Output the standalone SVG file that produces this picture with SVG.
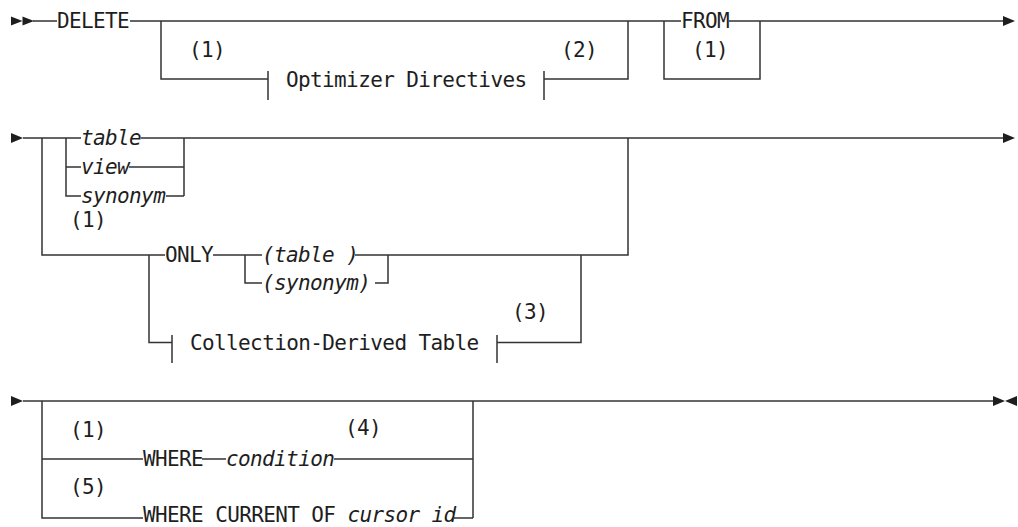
<svg xmlns="http://www.w3.org/2000/svg" width="1018" height="527" viewBox="0 0 1018 527">
<style>
text{font-family:"DejaVu Sans Mono","Liberation Mono",monospace;font-size:21px;letter-spacing:-0.62px;fill:#1e1e1e}
.i{font-style:italic}
.c{fill:none;stroke:#333;stroke-width:1.5}
.a{fill:#1e1e1e}
</style>
<rect width="1018" height="527" fill="#fff"/>
<g id="connectors">
<path class="c" d="M33,21 H57 M130,21 H681 M729,21 H1003"/>
<path class="c" d="M161,21 V79 H268 M268,71 V100 M544,71 V100 M544,79 H628 V21"/>
<path class="c" d="M664,21 V79 H760 V21"/>
<path class="c" d="M23,138 H81 M141,138 H1003"/>
<path class="c" d="M42,138 V255 H165"/>
<path class="c" d="M66,138 V196 H81 M66,167 H81 M129,167 H184 M166,196 H184 M184,138 V196"/>
<path class="c" d="M213,255 H262 M245,255 V283 H262 M355,255 H628 V138 M375,283 H388 V255"/>
<path class="c" d="M149,255 V342.5 H172 M172,335 V363 M497,335 V363 M497,342.5 H581 V255"/>
<path class="c" d="M23,401 H993"/>
<path class="c" d="M42,401 V518 H143 M42,459 H143 M202,459 H226 M334,459 H473 M473,401 V518 M454,518 H473"/>
<polygon class="a" points="11,16.5 22.5,21 11,25.5"/>
<polygon class="a" points="22.5,16.5 34,21 22.5,25.5"/>
<polygon class="a" points="1003,16 1015,21 1003,26"/>
<polygon class="a" points="11,133 23,138 11,143"/>
<polygon class="a" points="1003,133 1015,138 1003,143"/>
<polygon class="a" points="11,396 23,401 11,406"/>
<polygon class="a" points="993,396 1005,401 993,406"/>
<polygon class="a" points="1017,396 1005,401 1017,406"/>
</g>
<g id="delete"><text x="57" y="28">DELETE</text></g>
<g id="note1a"><text x="189" y="57">(1)</text></g>
<g id="optimizer"><text x="286" y="87">Optimizer Directives</text></g>
<g id="note2"><text x="561" y="57">(2)</text></g>
<g id="from"><text x="681" y="28">FROM</text></g>
<g id="note1b"><text x="692" y="57">(1)</text></g>
<g id="table"><text class="i" x="81" y="145">table</text></g>
<g id="view"><text class="i" x="81" y="174">view</text></g>
<g id="synonym"><text class="i" x="81" y="203">synonym</text></g>
<g id="note1c"><text x="70" y="227">(1)</text></g>
<g id="only"><text x="165" y="262">ONLY</text></g>
<g id="ptable"><text class="i" x="262" y="262">(table )</text></g>
<g id="psynonym"><text class="i" x="262" y="290">(synonym)</text></g>
<g id="collection"><text x="190" y="350">Collection-Derived Table</text></g>
<g id="note3"><text x="512" y="319">(3)</text></g>
<g id="note1d"><text x="70" y="437">(1)</text></g>
<g id="where"><text x="143" y="466">WHERE</text></g>
<g id="condition"><text class="i" x="226" y="466">condition</text></g>
<g id="note4"><text x="345" y="435">(4)</text></g>
<g id="note5"><text x="70" y="494">(5)</text></g>
<g id="wherecurrent"><text x="143" y="522">WHERE CURRENT OF <tspan class="i">cursor id</tspan></text></g>
</svg>
